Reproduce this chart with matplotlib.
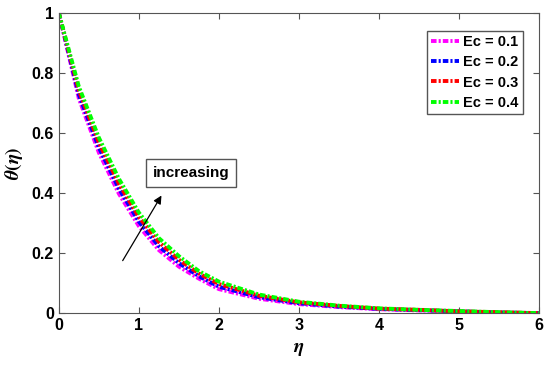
import matplotlib
matplotlib.use('Agg')
import matplotlib.pyplot as plt

plt.rcParams['font.family'] = ['Liberation Sans', 'DejaVu Sans']
plt.rcParams['font.weight'] = 'bold'
plt.rcParams['mathtext.fontset'] = 'stix'
plt.rcParams['lines.scale_dashes'] = False

eta = [0, 0.25, 0.5, 0.75, 1.0, 1.25, 1.5, 1.75, 2.0, 2.5, 3.0, 3.5, 4.0, 4.5, 5.0, 5.5, 6.0]
theta_01 = [1, 0.715, 0.535, 0.398, 0.290, 0.210, 0.155, 0.115, 0.080, 0.048, 0.030, 0.020, 0.013, 0.009, 0.005, 0.002, 0]
theta_02 = [1, 0.728, 0.552, 0.415, 0.305, 0.223, 0.167, 0.123, 0.088, 0.053, 0.033, 0.022, 0.014, 0.010, 0.006, 0.002, 0]
theta_03 = [1, 0.742, 0.568, 0.431, 0.320, 0.237, 0.178, 0.132, 0.097, 0.058, 0.036, 0.024, 0.015, 0.011, 0.006, 0.003, 0]
theta_04 = [1, 0.755, 0.585, 0.448, 0.335, 0.250, 0.190, 0.140, 0.105, 0.062, 0.038, 0.025, 0.016, 0.011, 0.007, 0.003, 0]

series = [theta_01, theta_02, theta_03, theta_04]
labels = ['Ec = 0.1', 'Ec = 0.2', 'Ec = 0.3', 'Ec = 0.4']
colors = ['#ff00ff', '#0000ff', '#ff0000', '#00ff00']

fig = plt.figure(figsize=(5.5, 3.75), dpi=100)
ax = fig.add_axes([0.107, 0.165, 0.873, 0.80])

for y, lab, c in zip(series, labels, colors):
    ax.plot(eta, y, linestyle=(0, (4, 1.5, 1.5, 1.5)), color=c,
            linewidth=2.8, label=lab)

ax.set_xlim(0, 6)
ax.set_ylim(0, 1)
ax.set_xticks(range(0, 7))
ax.set_yticks([0, 0.2, 0.4, 0.6, 0.8, 1])
ax.set_yticklabels(['0', '0.2', '0.4', '0.6', '0.8', '1'])
ax.tick_params(direction='in', top=True, right=True, labelsize=11.5, length=4,
               color='#555555')
for lab in ax.get_xticklabels() + ax.get_yticklabels():
    lab.set_fontweight('bold')
for s in ax.spines.values():
    s.set_color('#555555')

ax.set_xlabel(r'$\eta$', fontsize=14, labelpad=6)
ax.set_ylabel(r'$\theta(\eta)$', fontsize=14, labelpad=5)

leg = ax.legend(loc='upper right', bbox_to_anchor=(0.982, 0.965), fontsize=10.5,
                handlelength=1.9, handletextpad=0.3, labelspacing=0.42,
                borderpad=0.3, fancybox=False, framealpha=1, edgecolor='#555555')
for t in leg.get_texts():
    t.set_fontweight('bold')

ax.annotate('', xy=(1.30, 0.40), xytext=(0.78, 0.167),
            arrowprops=dict(arrowstyle='-|>', color='black', lw=0.9,
                            mutation_scale=12))
ax.text(1.17, 0.467, 'increasing', fontsize=11, fontweight='bold', va='center',
        ha='left',
        bbox=dict(boxstyle='square,pad=0.45', facecolor='white',
                  edgecolor='#555555', linewidth=1))

fig.savefig('out.png', dpi=100)
